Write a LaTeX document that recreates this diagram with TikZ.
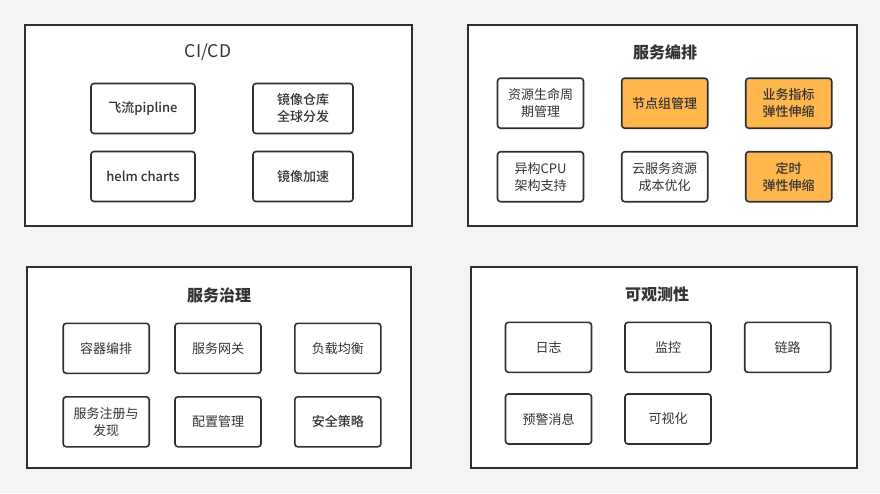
\documentclass[tikz,border=0pt]{standalone}
\usepackage{fontspec}
\setmainfont{Noto Sans CJK SC}
\newfontfamily\medfont{Noto Sans CJK SC}[UprightFont=* Medium]
\usepackage{tikz}
\usetikzlibrary{positioning}
\definecolor{edge}{HTML}{2B3038}
\definecolor{ink}{HTML}{333333}
\definecolor{hot}{HTML}{FFB74D}
\definecolor{paper}{HTML}{F4F4F4}
\tikzset{
  panel/.style={draw=edge, line width=1.8pt, fill=white, minimum width=#1, minimum height=201pt, inner sep=0pt},
  item/.style={draw=edge, line width=1.6pt, fill=white, rounded corners=3pt, minimum width=86pt, minimum height=50pt, inner sep=0pt, align=center, text=ink, font=\fontsize{13}{17}\selectfont},
  wide/.style={item, minimum width=#1},
  strong/.style={font=\fontsize{13}{17}\selectfont\medfont},
  hi/.style={item, fill=hot, strong},
  heading/.style={text=ink, font=\fontsize{16}{20}\selectfont\bfseries}
}
\begin{document}
\begin{tikzpicture}[x=1pt, y=-1pt]
\fill[paper] (0,0) rectangle (880,493);
\useasboundingbox (0,0) rectangle (880,493);
   \node[panel=387pt] (cicd) at (218.5,125.5) {};
   \node[panel=389pt] (orch) at (662.5,125.5) {};
   \node[panel=384pt] (gov) at (219,367.5) {};
   \node[panel=386pt] (obs) at (664,367.5) {};
% CI/CD
   \node[text=ink, font=\fontsize{17.5}{20}\selectfont] (t1) at (208,52) {CI/CD};
    \node[wide=104pt, strong] (pipe) at (143,108.5) {飞流pipline};
    \node[wide=100pt, strong] (repo) at (303,108.5) {镜像仓库\\全球分发};
    \node[wide=104pt, strong] (helm) at (143,176.5) {helm charts};
    \node[wide=100pt, strong] (accel) at (303,176.5) {镜像加速};
% 服务编排
   \node[heading] (t2) at (665,52) {服务编排};
    \node[item] (life) at (540.5,103.2) {资源生命周\\期管理};
    \node[hi] (pool) at (664.7,103.2) {节点组管理};
    \node[hi] (metric) at (788.7,103.2) {业务指标\\弹性伸缩};
    \node[item] (arch) at (540.5,176.7) {异构CPU\\架构支持};
    \node[item] (cost) at (664.7,176.7) {云服务资源\\成本优化};
    \node[hi] (timer) at (788.7,176.7) {定时\\弹性伸缩};
% 服务治理
   \node[heading] (t3) at (219,295.7) {服务治理};
    \node[item] (sched) at (106.2,348.3) {容器编排};
    \node[item] (gate) at (218,348.3) {服务网关};
    \node[item] (lb) at (337.8,348.3) {负载均衡};
    \node[item] (reg) at (106.2,421.8) {服务注册与\\发现};
    \node[item] (conf) at (218,421.8) {配置管理};
    \node[item, strong] (sec) at (337.8,421.8) {安全策略};
% 可观测性
   \node[heading] (t4) at (657,294.3) {可观测性};
    \node[item] (logs) at (548.5,347.3) {日志};
    \node[item] (mon) at (668,347.3) {监控};
    \node[item] (trace) at (787.7,347.3) {链路};
    \node[item] (alert) at (548.5,419) {预警消息};
    \node[item] (vis) at (668,419) {可视化};
\end{tikzpicture}
\end{document}
